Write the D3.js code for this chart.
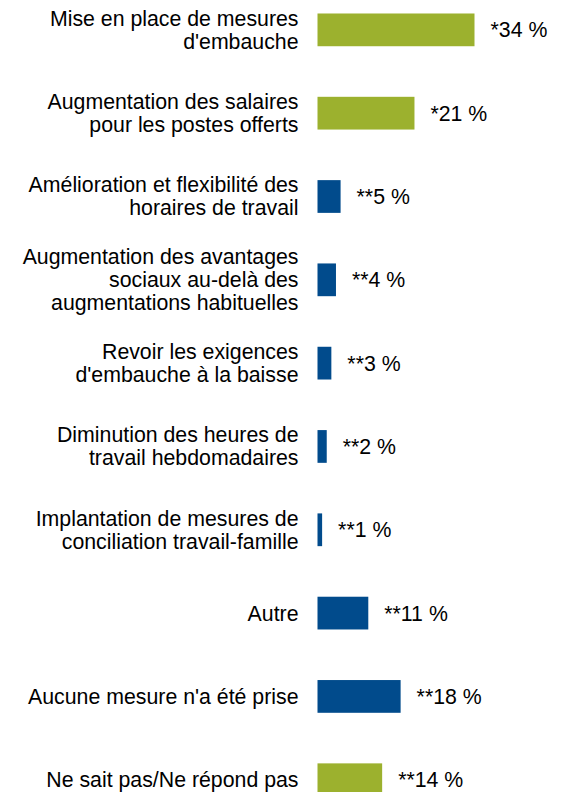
<!DOCTYPE html>
<html>
<head>
<meta charset="utf-8">
<script src="https://cdn.jsdelivr.net/npm/d3@7"></script>
<style>
  body { margin: 0; background: #fff; }
  text { font-family: "Liberation Sans", Arial, sans-serif; fill: #000; }
</style>
</head>
<body>
<div id="main"></div>
<script>
const categories = [
    "Mise en place de mesures|d'embauche",
    "Augmentation des salaires|pour les postes offerts",
    "Amélioration et flexibilité des|horaires de travail",
    "Augmentation des avantages|sociaux au-delà des|augmentations habituelles",
    "Revoir les exigences|d'embauche à la baisse",
    "Diminution des heures de|travail hebdomadaires",
    "Implantation de mesures de|conciliation travail-famille",
    "Autre",
    "Aucune mesure n'a été prise",
    "Ne sait pas/Ne répond pas"
]
const values = [34, 21, 5, 4, 3, 2, 1, 11, 18, 14]
const prefixes = ["*", "*", "**", "**", "**", "**", "**", "**", "**", "**"]
const groups = ["vert", "vert", "bleu", "bleu", "bleu", "bleu", "bleu", "bleu", "bleu", "vert"]

let width = 563,
    height = 792,
    barX = 317.5,
    labelX = 298.5,
    fontSize = 21.3,
    lineH = 23

const svg = d3.select("div#main")
    .append("svg")
    .attr("width", width)
    .attr("height", height)

const idx = d3.range(categories.length)

// 4.62 px per percent
const x = d3.scaleLinear()
    .domain([0, 34])
    .range([barX, barX + 157])

const y = d3.scaleBand()
    .domain(idx)
    .range([-11.8, -11.8 + 83.32 * categories.length])
    .paddingInner(0.607)
    .paddingOuter(0.3035)

const color = d3.scaleOrdinal()
    .domain(["vert", "bleu"])
    .range(["#9cb12e", "#014b8c"])

const mid = i => y(i) + y.bandwidth() / 2

svg.selectAll(".bar")
    .data(idx)
    .join("rect")
    .attr("class", "bar")
    .attr("x", x(0))
    .attr("y", i => y(i))
    .attr("width", i => x(values[i]) - x(0))
    .attr("height", y.bandwidth())
    .attr("fill", i => color(groups[i]))

svg.selectAll(".value")
    .data(idx)
    .join("text")
    .attr("class", "value")
    .attr("x", i => x(values[i]) + 16)
    .attr("y", mid)
    .attr("dy", "0.35em")
    .style("font-size", fontSize + "px")
    .text(i => prefixes[i] + values[i] + " %")

const labels = svg.selectAll(".label")
    .data(idx)
    .join("text")
    .attr("class", "label")
    .attr("text-anchor", "end")
    .style("font-size", fontSize + "px")

labels.each(function (i) {
    let lines = categories[i].split("|")
    let top = mid(i) - (lines.length - 1) * lineH / 2
    d3.select(this).selectAll("tspan")
        .data(lines)
        .join("tspan")
        .attr("x", labelX)
        .attr("y", (d, k) => top + k * lineH)
        .attr("dy", "0.35em")
        .text(d => d)
})
</script>
</body>
</html>
